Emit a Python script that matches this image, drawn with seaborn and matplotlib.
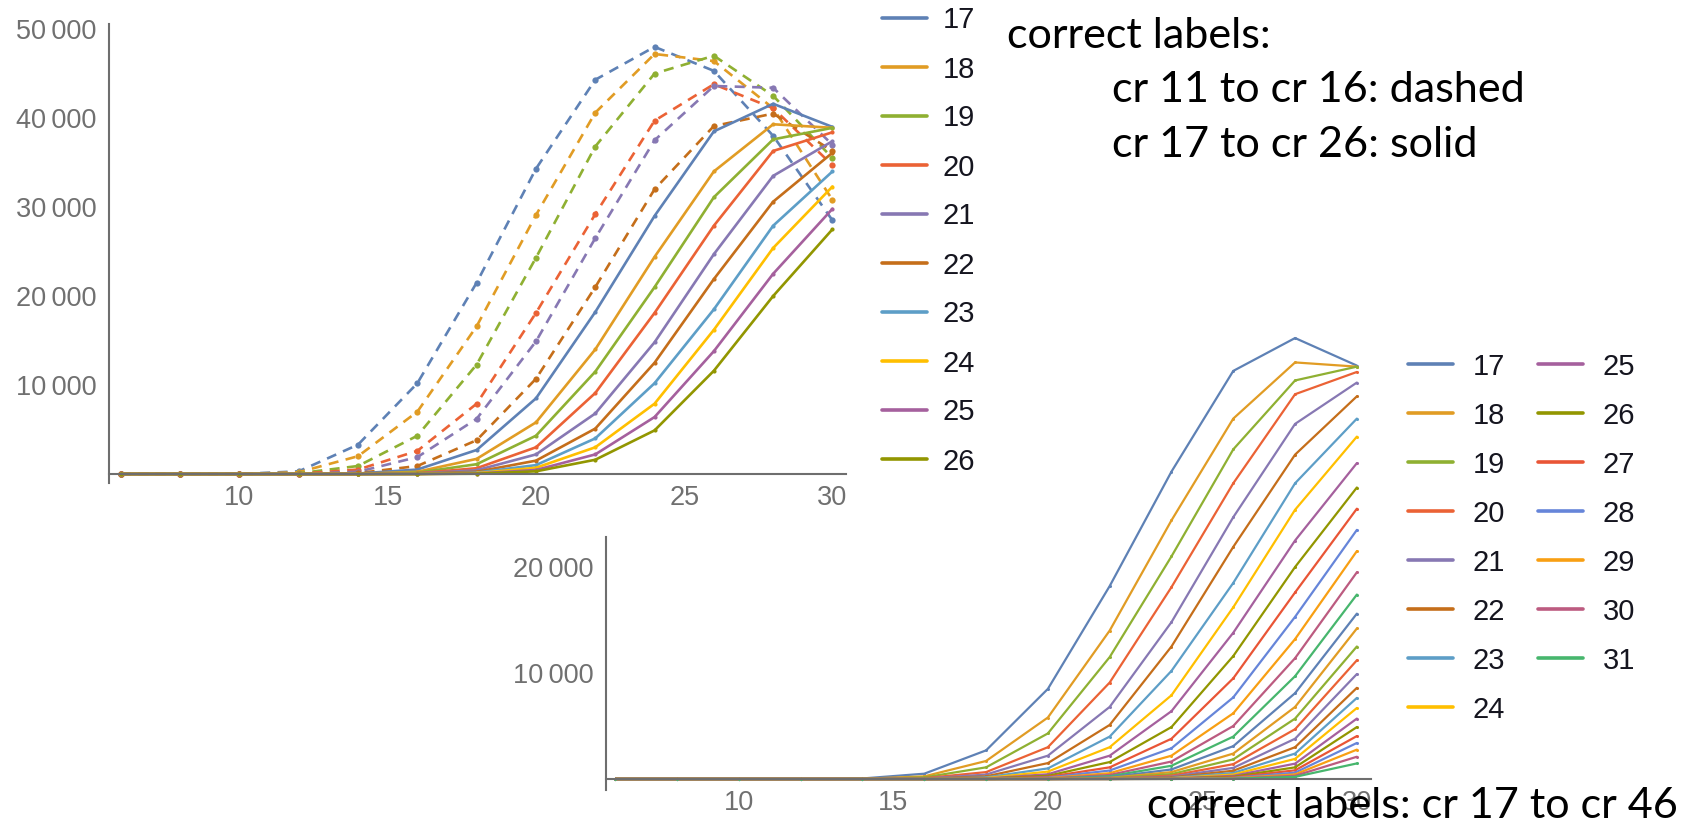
import matplotlib
matplotlib.use("Agg")
import matplotlib.pyplot as plt
import seaborn as sns
from matplotlib.ticker import FixedLocator, MultipleLocator
from matplotlib import font_manager

# ---------------- data ----------------
x_vals = [6, 8, 10, 12, 14, 16, 18, 20, 22, 24, 26, 28, 30]

# dashed curves in the upper chart (cr 11 .. cr 16)
dashed_ids = [11, 12, 13, 14, 15, 16]
cr11 = [0, 0, 0, 300, 3300, 10200, 21500, 34300, 44300, 48000, 45300, 38000, 28500]
cr12 = [0, 0, 0, 200, 2000, 7000, 16600, 29100, 40600, 47200, 46400, 41100, 30800]
cr13 = [0, 0, 0, 80, 900, 4300, 12300, 24300, 36800, 45000, 47000, 42500, 35500]
cr14 = [0, 0, 0, 30, 500, 2600, 7900, 18100, 29200, 39700, 43800, 41100, 34700]
cr15 = [0, 0, 0, 0, 250, 1900, 6200, 14900, 26500, 37500, 43600, 43400, 37000]
cr16 = [0, 0, 0, 0, 100, 900, 3800, 10700, 21000, 32000, 39100, 40500, 36300]
dashed_values = [cr11, cr12, cr13, cr14, cr15, cr16]

# solid curves (cr 17 .. cr 46)
cr17 = [0, 0, 0, 0, 50, 500, 2700, 8500, 18200, 29000, 38500, 41600, 39000]
cr18 = [0, 0, 0, 0, 20, 250, 1700, 5800, 14000, 24400, 34000, 39300, 38900]
cr19 = [0, 0, 0, 0, 10, 150, 1100, 4300, 11500, 21000, 31100, 37600, 38900]
cr20 = [0, 0, 0, 0, 0, 80, 650, 3000, 9100, 18100, 27900, 36300, 38400]
cr21 = [0, 0, 0, 0, 0, 40, 420, 2200, 6800, 14800, 24700, 33500, 37400]
cr22 = [0, 0, 0, 0, 0, 20, 250, 1500, 5100, 12500, 21900, 30600, 36100]
cr23 = [0, 0, 0, 0, 0, 10, 150, 1000, 4000, 10200, 18500, 27900, 34000]
cr24 = [0, 0, 0, 0, 0, 0, 90, 700, 3000, 7900, 16200, 25400, 32300]
cr25 = [0, 0, 0, 0, 0, 0, 50, 450, 2200, 6400, 13800, 22500, 29800]
cr26 = [0, 0, 0, 0, 0, 0, 30, 300, 1600, 4900, 11600, 20000, 27500]
cr27 = [0, 0, 0, 0, 0, 0, 20, 200, 1100, 3800, 9500, 17600, 25500]
cr28 = [0, 0, 0, 0, 0, 0, 10, 130, 800, 2900, 7700, 15300, 23500]
cr29 = [0, 0, 0, 0, 0, 0, 0, 80, 550, 2200, 6200, 13200, 21500]
cr30 = [0, 0, 0, 0, 0, 0, 0, 50, 380, 1650, 5000, 11400, 19500]
cr31 = [0, 0, 0, 0, 0, 0, 0, 30, 260, 1250, 4000, 9700, 17400]
cr32 = [0, 0, 0, 0, 0, 0, 0, 20, 170, 900, 3100, 8100, 15600]
cr33 = [0, 0, 0, 0, 0, 0, 0, 10, 110, 650, 2400, 6800, 14200]
cr34 = [0, 0, 0, 0, 0, 0, 0, 5, 70, 460, 1850, 5700, 12500]
cr35 = [0, 0, 0, 0, 0, 0, 0, 0, 45, 320, 1400, 4700, 11200]
cr36 = [0, 0, 0, 0, 0, 0, 0, 0, 30, 220, 1050, 3800, 9900]
cr37 = [0, 0, 0, 0, 0, 0, 0, 0, 20, 150, 780, 3000, 8600]
cr38 = [0, 0, 0, 0, 0, 0, 0, 0, 12, 100, 570, 2400, 7650]
cr39 = [0, 0, 0, 0, 0, 0, 0, 0, 8, 70, 420, 1900, 6700]
cr40 = [0, 0, 0, 0, 0, 0, 0, 0, 5, 45, 300, 1450, 5700]
cr41 = [0, 0, 0, 0, 0, 0, 0, 0, 3, 30, 210, 1100, 4900]
cr42 = [0, 0, 0, 0, 0, 0, 0, 0, 0, 20, 150, 820, 4050]
cr43 = [0, 0, 0, 0, 0, 0, 0, 0, 0, 12, 100, 600, 3400]
cr44 = [0, 0, 0, 0, 0, 0, 0, 0, 0, 8, 70, 430, 2770]
cr45 = [0, 0, 0, 0, 0, 0, 0, 0, 0, 5, 45, 300, 2100]
cr46 = [0, 0, 0, 0, 0, 0, 0, 0, 0, 3, 30, 200, 1470]
solid_ids = list(range(17, 47))
solid_values = [cr17, cr18, cr19, cr20, cr21, cr22, cr23, cr24, cr25, cr26,
                cr27, cr28, cr29, cr30, cr31, cr32, cr33, cr34, cr35, cr36,
                cr37, cr38, cr39, cr40, cr41, cr42, cr43, cr44, cr45, cr46]

top_solid_count = 10        # cr 17 .. cr 26 in the upper chart
bottom_legend_count = 15    # legend shows 17 .. 31

x_major = [10, 15, 20, 25, 30]
top_y_major = [10000, 20000, 30000, 40000, 50000]
bottom_y_major = [10000, 20000]

palette = ['#5E81B5', '#E19C24', '#8FB032', '#EB6235', '#8778B3',
           '#C56E1A', '#5D9EC7', '#FFBF00', '#A5609D', '#929600',
           '#E95536', '#6685D9', '#F89F13', '#BC5B80', '#47B66D']

note_top = ["correct labels:", "cr 11 to cr 16: dashed", "cr 17 to cr 26: solid"]
note_bottom = "correct labels: cr 17 to cr 46"

# ---------------- style ----------------
sns.set_style("white")
avail = {f.name for f in font_manager.fontManager.ttflist}
tick_font = "Liberation Sans" if "Liberation Sans" in avail else "DejaVu Sans"
note_font = "Lato" if "Lato" in avail else "DejaVu Sans"
plt.rcParams["font.family"] = [tick_font, "DejaVu Sans"]

AXIS_C = "#6e6e6e"
LABEL_C = "#707070"
LEGEND_C = "#15151f"

W, H = 1696, 840
fig = plt.figure(figsize=(W / 100, H / 100), dpi=100)
fig.patch.set_facecolor("white")


def px_axes(left, top, right, bottom):
    return fig.add_axes([left / W, 1 - bottom / H, (right - left) / W, (bottom - top) / H])


def fmt(v):
    s = f"{int(v):d}"
    return s[:-3] + "\u2009" + s[-3:] if len(s) > 3 else s


def style_axes(ax, xlim, ylim, ymaj, ymin_ticks):
    ax.set_xlim(*xlim)
    ax.set_ylim(*ylim)
    ax.patch.set_alpha(0)
    for s in ("top", "right"):
        ax.spines[s].set_visible(False)
    ax.spines["bottom"].set_position(("data", 0))
    for s in ("bottom", "left"):
        ax.spines[s].set_color(AXIS_C)
        ax.spines[s].set_linewidth(1.5)
    ax.xaxis.set_major_locator(FixedLocator(x_major))
    ax.xaxis.set_minor_locator(MultipleLocator(1))
    ax.yaxis.set_major_locator(FixedLocator(ymaj))
    ax.yaxis.set_minor_locator(FixedLocator(ymin_ticks))
    ax.set_xticklabels([str(v) for v in x_major])
    ax.set_yticklabels([fmt(v) for v in ymaj])
    ax.tick_params(which="both", direction="in", color=AXIS_C, width=1.1,
                   labelcolor=LABEL_C, labelsize=19.5)
    ax.tick_params(which="major", length=6.5)
    ax.tick_params(which="minor", length=3.6)
    ax.tick_params(axis="x", pad=8)
    ax.tick_params(axis="y", pad=9)
    ax.set_xlabel("")
    ax.set_ylabel("")


# ---------------- upper chart ----------------
ax1 = px_axes(109, 23.7, 846.4, 482.9)
for cid, vals, col in zip(dashed_ids, dashed_values, palette):
    sns.lineplot(x=x_vals, y=vals, ax=ax1, color=col, linewidth=1.9,
                 marker="o", markersize=4.5, markeredgewidth=0, legend=False)
    ax1.lines[-1].set_linestyle((0, (3.8, 2.8)))
for cid, vals, col in zip(solid_ids[:top_solid_count], solid_values[:top_solid_count], palette):
    sns.lineplot(x=x_vals, y=vals, ax=ax1, color=col, linewidth=1.9,
                 marker="o", markersize=3.0, markeredgewidth=0,
                 label=str(cid), legend=False)
style_axes(ax1, (5.6, 30.47), (-1000, 50600), top_y_major, list(range(2000, 50001, 2000)))

h1, l1 = ax1.get_legend_handles_labels()
leg1 = ax1.legend(h1, l1, loc="upper left", bbox_to_anchor=(882 / W, 1 - 6.5 / H),
                  bbox_transform=fig.transFigure, frameon=False, borderpad=0,
                  borderaxespad=0, handlelength=1.54, handletextpad=0.55,
                  labelspacing=0.72, fontsize=21, labelcolor=LEGEND_C)
for ln in leg1.get_lines():
    ln.set_linewidth(2.6)
    ln.set_marker("")

# ---------------- lower chart ----------------
ax2 = px_axes(606, 323.2, 1371.4, 789.6)
for i, (cid, vals) in enumerate(zip(solid_ids, solid_values)):
    col = palette[i % len(palette)]
    lab = str(cid) if i < bottom_legend_count else "_nolegend_"
    sns.lineplot(x=x_vals, y=vals, ax=ax2, color=col, linewidth=1.6,
                 marker="o", markersize=2.2, markeredgewidth=0,
                 label=lab, legend=False)
style_axes(ax2, (5.7, 30.47), (-1000, 43000), bottom_y_major, list(range(2000, 22001, 2000)))
ax2.spines["left"].set_bounds(-1000, 22800)

h2, l2 = ax2.get_legend_handles_labels()
leg2 = ax2.legend(h2, l2, loc="upper left", bbox_to_anchor=(1408 / W, 1 - 352.7 / H),
                  bbox_transform=fig.transFigure, frameon=False, borderpad=0,
                  borderaxespad=0, handlelength=1.54, handletextpad=0.68,
                  labelspacing=0.72, columnspacing=1.11, ncol=2,
                  fontsize=21, labelcolor=LEGEND_C)
for ln in leg2.get_lines():
    ln.set_linewidth(2.6)
    ln.set_marker("")

# ---------------- notes ----------------
note_specs = [  # (x, baseline y, text, target width, ha)
    (1007, 48, note_top[0], 267, "left"),
    (1112, 102, note_top[1], 414, "left"),
    (1112, 157, note_top[2], 365, "left"),
    (1678, 818, note_bottom, 528, "right"),
]
texts = []
renderer = fig.canvas.get_renderer()
ratios = []
for x, y, s, tw, ha in note_specs:
    t = fig.text(x / W, 1 - y / H, s, fontsize=30, family=[note_font, "DejaVu Sans"],
                 color="black", va="baseline", ha=ha, zorder=10)
    texts.append(t)
    ratios.append(tw / t.get_window_extent(renderer).width)
size = 30 * sum(ratios) / len(ratios)
for t in texts:
    t.set_fontsize(size)

fig.savefig("out.png", dpi=100, facecolor="white")
